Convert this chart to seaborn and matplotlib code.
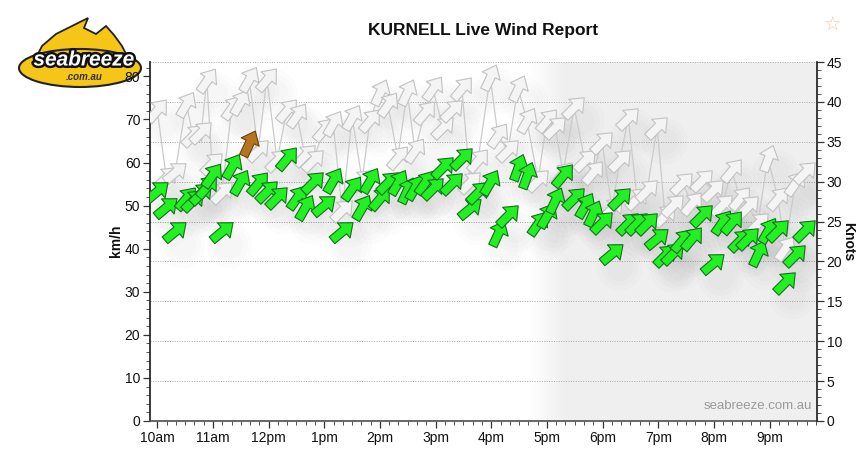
import numpy as np
import matplotlib
matplotlib.use("Agg")
import matplotlib.pyplot as plt
import matplotlib.transforms as mtransforms
import matplotlib.patheffects as pe
from matplotlib.path import Path
from matplotlib.markers import MarkerStyle
from matplotlib.patches import Ellipse, Polygon
from matplotlib.colors import LinearSegmentedColormap
from matplotlib.ticker import MultipleLocator
import seaborn as sns

# ── Dados (leituras a cada ~10 min) ─────────────────────────────────────────
obs_time = [
    10.00, 10.16, 10.32, 10.52, 10.64, 10.79, 10.89, 10.98, 11.16, 11.34,
    11.49, 11.65, 11.81, 11.97, 12.15, 12.33, 12.51, 12.65, 12.80, 13.00,
    13.16, 13.32, 13.50, 13.68, 13.82, 14.00, 14.14, 14.32, 14.49, 14.63,
    14.81, 14.95, 15.13, 15.29, 15.47, 15.62, 15.76, 15.98, 16.12, 16.30,
    16.48, 16.64, 16.84, 17.00, 17.15, 17.29, 17.49, 17.68, 17.83, 17.99,
    18.17, 18.31, 18.46, 18.62, 18.80, 18.98, 19.12, 19.26, 19.43, 19.61,
    19.79, 19.98, 20.15, 20.32, 20.47, 20.61, 20.79, 20.97, 21.15, 21.28,
    21.46, 21.64,
]
avg_kmh = [
    53.3, 49.6, 44.1, 51.7, 51.2, 52.9, 54.5, 57.0, 44.1, 59.1,
    55.4, 64.5, 55.2, 53.3, 51.9, 61.0, 51.9, 49.6, 55.4, 50.1,
    55.9, 44.1, 54.0, 49.6, 55.9, 51.7, 55.4, 55.4, 53.6, 54.3,
    55.4, 54.0, 58.9, 55.2, 61.0, 49.4, 53.1, 55.4, 43.6, 47.8,
    58.9, 57.0, 45.9, 47.8, 51.2, 57.0, 51.7, 50.1, 48.2, 46.1,
    39.0, 51.7, 45.9, 45.9, 45.9, 42.4, 38.5, 39.0, 42.0, 42.4,
    47.8, 36.6, 46.1, 46.1, 42.0, 42.4, 39.0, 44.3, 44.3, 32.2,
    38.5, 44.3,
]
gust_kmh = [
    72.1, 56.6, 57.7, 73.7, 66.3, 67.0, 79.1, 60.0, 53.1, 72.8,
    74.0, 79.5, 62.8, 79.5, 60.5, 72.1, 71.0, 61.7, 60.5, 67.9,
    69.1, 48.9, 70.5, 55.9, 69.8, 76.3, 73.7, 61.2, 76.3, 62.8,
    71.7, 77.2, 68.2, 72.1, 77.4, 55.4, 60.5, 79.8, 66.3, 62.8,
    77.4, 69.8, 55.9, 69.8, 68.2, 57.5, 72.8, 60.5, 57.7, 64.7,
    49.4, 60.5, 70.3, 51.7, 53.6, 68.2, 47.8, 50.1, 55.2, 50.6,
    55.9, 53.6, 50.1, 58.2, 51.7, 50.0, 45.9, 61.0, 51.7, 40.1,
    55.2, 57.7,
]
# direção de onde vem o vento (graus)
avg_dir = [
    230, 230, 230, 220, 225, 225, 220, 215, 230, 210,
    210, 205, 220, 225, 225, 220, 215, 210, 225, 230,
    210, 230, 215, 210, 210, 220, 225, 210, 205, 210,
    215, 225, 225, 225, 225, 230, 225, 210, 205, 225,
    200, 200, 215, 210, 205, 220, 225, 210, 205, 225,
    230, 225, 225, 225, 225, 230, 225, 225, 220, 220,
    225, 230, 215, 220, 225, 225, 205, 210, 225, 225,
    225, 225,
]
gust_dir = [
    220, 225, 230, 210, 225, 225, 215, 225, 225, 215,
    210, 210, 225, 220, 225, 220, 215, 225, 225, 220,
    210, 225, 210, 225, 220, 205, 215, 220, 205, 215,
    220, 215, 225, 225, 220, 225, 220, 205, 215, 225,
    205, 210, 225, 220, 225, 220, 225, 225, 220, 225,
    225, 225, 225, 225, 225, 225, 225, 225, 225, 220,
    225, 225, 225, 220, 220, 225, 225, 200, 220, 215,
    215, 225,
]
poor_direction_times = [11.65]

hour_ticks = [10, 11, 12, 13, 14, 15, 16, 17, 18, 19, 20, 21]
hour_labels = ["10am", "11am", "12pm", "1pm", "2pm", "3pm",
               "4pm", "5pm", "6pm", "7pm", "8pm", "9pm"]
night_start = 16.70      # início do sombreado
night_full = 17.33

# ── Estilo ───────────────────────────────────────────────────────────────────
KMH_PER_KNOT = 1.852
TEXT = "#111111"
C_GREEN, C_GREEN_E = "#22f022", "#13701a"
C_BROWN, C_BROWN_E = "#b8731f", "#6b420f"
C_GREY, C_GREY_E = "#f4f4f4", "#c2c2c2"
C_SHADE = "#efefef"
XMIN, XMAX = 9.869, 21.852
YMAX = 45 * KMH_PER_KNOT
ARROW_S = 390

sns.set_theme(style="ticks")
plt.rcParams["font.family"] = ["Liberation Sans", "DejaVu Sans"]

ARROW_PATH = Path(
    [(0, 1), (0.72, 0.12), (0.32, 0.12), (0.32, -1), (-0.32, -1),
     (-0.32, 0.12), (-0.72, 0.12), (0, 1)],
    closed=True,
)


def arrow_marker(from_deg):
    bearing = from_deg - 180
    return MarkerStyle(ARROW_PATH, transform=mtransforms.Affine2D().rotate_deg(-bearing))


fig = plt.figure(figsize=(8.64, 4.55), dpi=100, facecolor="white")

# logotipo aproximado (desenhado por baixo do gráfico)
lax = fig.add_axes([12 / 864, 1 - 92 / 455, 148 / 864, 80 / 455])
lax.set_xlim(0, 148)
lax.set_ylim(0, 80)
lax.axis("off")
lax.add_patch(Polygon([(22, 30), (30, 46), (44, 58), (60, 66), (76, 74), (72, 64),
                       (84, 58), (94, 66), (102, 57), (110, 46), (118, 30)],
                      closed=True, fc="#f5c518", ec="#222222", lw=1.3))
lax.add_patch(Ellipse((68, 24), 122, 38, fc="#f5c518", ec="#222222", lw=1.5))
lax.text(72, 32, "seabreeze", ha="center", va="center", fontsize=15,
         fontweight="bold", style="italic", color="white",
         path_effects=[pe.withStroke(linewidth=3.5, foreground="#111111")])
lax.text(72, 15, ".com.au", ha="center", va="center", fontsize=7,
         fontweight="bold", style="italic", color="#333333")

ax = fig.add_axes([150 / 864, 1 - 421 / 455, 667 / 864, 359 / 455])
ax.set_facecolor("white")

# sombreado (fim da tarde)
grad = np.linspace(0, 1, 64).reshape(1, -1)
cmap = LinearSegmentedColormap.from_list("shade", ["#ffffff", C_SHADE])
ax.imshow(grad, extent=[night_start, night_full, 0, YMAX], aspect="auto",
          cmap=cmap, zorder=0)
ax.axvspan(night_full, XMAX, color=C_SHADE, lw=0, zorder=0)

# linhas de grade em nós
for k in range(5, 46, 5):
    ax.axhline(k * KMH_PER_KNOT, color="#a8a8a8", lw=0.7, ls=(0, (1, 1.5)), zorder=0.5)

# sombras suaves
shadow_tr = mtransforms.offset_copy(ax.transData, fig=fig, x=5, y=-10, units="points")
for vals in (gust_kmh, avg_kmh):
    for size, alpha in ((1100, 0.010), (700, 0.012), (380, 0.012)):
        ax.scatter(obs_time, vals, s=size, color="black", alpha=alpha, lw=0,
                   transform=shadow_tr, zorder=1)

# linha de rajadas
sns.lineplot(x=obs_time, y=gust_kmh, ax=ax, color="#cbcbcb", lw=0.9, zorder=2)

for t, g, d in zip(obs_time, gust_kmh, gust_dir):
    ax.scatter(t, g, marker=arrow_marker(d), s=ARROW_S, facecolor=C_GREY,
               edgecolor=C_GREY_E, linewidth=0.8, zorder=3)

for t, v, d in zip(obs_time, avg_kmh, avg_dir):
    poor = any(abs(t - p) < 1e-6 for p in poor_direction_times)
    ax.scatter(t, v, marker=arrow_marker(d), s=ARROW_S,
               facecolor=C_BROWN if poor else C_GREEN,
               edgecolor=C_BROWN_E if poor else C_GREEN_E,
               linewidth=0.8, zorder=4)

ax.set_xlim(XMIN, XMAX)
ax.set_ylim(0, YMAX)
ax.set_xticks(hour_ticks)
ax.set_xticklabels(hour_labels)
ax.xaxis.set_minor_locator(MultipleLocator(1 / 6))
ax.yaxis.set_major_locator(MultipleLocator(10))
ax.yaxis.set_minor_locator(MultipleLocator(2))
ax.set_xlabel("")
ax.set_ylabel("")
ax.spines[["top", "right"]].set_visible(False)
ax.spines["left"].set_color("#222222")
ax.spines["bottom"].set_color("#555555")
ax.tick_params(which="major", length=5, width=0.9, color="#333333",
               labelsize=10, labelcolor=TEXT, pad=2)
ax.tick_params(which="minor", length=3, width=0.7, color="#555555")

ax2 = ax.twinx()
ax2.set_ylim(0, 45)
ax2.yaxis.set_major_locator(MultipleLocator(5))
ax2.yaxis.set_minor_locator(MultipleLocator(1))
ax2.spines[["top", "left", "bottom"]].set_visible(False)
ax2.spines["right"].set_color("#222222")
ax2.tick_params(which="major", length=5, width=0.9, color="#333333",
                labelsize=10, labelcolor=TEXT, pad=2)
ax2.tick_params(which="minor", length=3, width=0.7, color="#555555")

ax.text(0.992, 0.025, "seabreeze.com.au", transform=ax.transAxes,
        ha="right", va="bottom", fontsize=9.5, color="#9a9a9a", zorder=6)

fig.text(0.5596, 0.932, "KURNELL Live Wind Report", ha="center", va="center",
         fontsize=12.5, fontweight="bold", color=TEXT)
fig.text(0.134, 0.47, "km/h", rotation=90, ha="center", va="center",
         fontsize=10, fontweight="bold", color=TEXT)
fig.text(0.982, 0.47, "Knots", rotation=270, ha="center", va="center",
         fontsize=10, fontweight="bold", color=TEXT)
fig.text(0.963, 0.945, "\u2606", ha="center", va="center", fontsize=14,
         color="#f2c79c", family="DejaVu Sans")

fig.savefig("out.png", dpi=100, facecolor="white")
